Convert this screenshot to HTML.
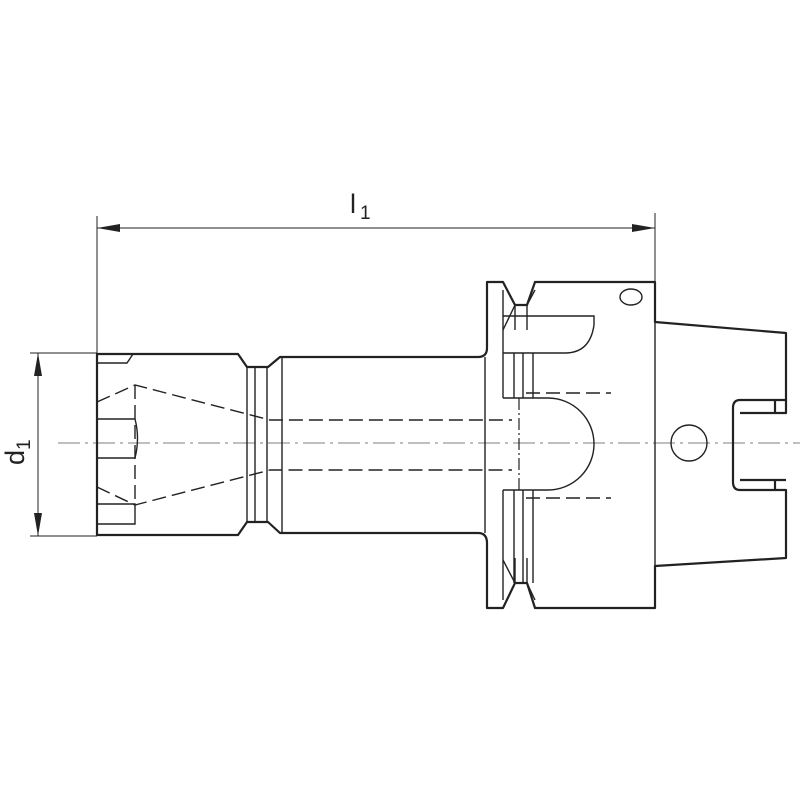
<!DOCTYPE html>
<html><head><style>body{margin:0;background:#fff}svg{display:block}</style></head>
<body>
<svg width="800" height="800" viewBox="0 0 800 800" xmlns="http://www.w3.org/2000/svg" font-family="Liberation Sans, sans-serif">
<rect width="800" height="800" fill="#fff"/>
<line x1="58" y1="443" x2="800" y2="443" stroke="#aaa" stroke-width="1.5" stroke-dasharray="22,5,3,5"/>
<g stroke="#222" stroke-width="1" fill="none">
<line x1="97" y1="216" x2="97" y2="354"/>
<line x1="655" y1="213" x2="655" y2="282"/>
<line x1="97" y1="228" x2="655" y2="228"/>
<line x1="30" y1="353" x2="97" y2="353"/>
<line x1="30" y1="536" x2="97" y2="536"/>
<line x1="38" y1="353" x2="38" y2="536"/>
</g>
<g fill="#222">
<polygon points="97,228 120,224 120,232"/>
<polygon points="655,228 632,224 632,232"/>
<polygon points="38,353 34,376 42,376"/>
<polygon points="38,536 34,513 42,513"/>
</g>
<text x="350" y="213" font-size="27" fill="#222">l</text>
<text x="360" y="219" font-size="19" fill="#222">1</text>
<text transform="translate(24,465) rotate(-90)" font-size="27" fill="#222">d<tspan font-size="19" dy="6">1</tspan></text>
<g stroke="#222" stroke-width="2.2" fill="none" stroke-linejoin="round">
<path d="M97,354 L238,354 L247,367 L268,367 L280,357 L478,357 Q487,357 487,348 L487,282 L503,282 L515,305 L527,305 L535,282 L655,282 L655,322 L786,333 L786,400 L740,400 Q733,400 733,408 L733,482 Q733,490 740,490 L786,490 L786,558 L655,566 L655,608 L535,608 L527,583 L515,583 L503,608 L487,608 L487,543 Q487,533 478,533 L280,533 L268,522 L247,522 L238,535 L97,535 Z"/>
<path d="M775,400 L775,413 M740,413 L786,413 L786,400"/>
<path d="M775,490 L775,480 M740,480 L786,480"/>
</g>
<g stroke="#222" stroke-width="1.4" fill="none">
<line x1="655" y1="282" x2="655" y2="608"/>
<line x1="485" y1="357" x2="485" y2="533"/>
<line x1="247" y1="367" x2="247" y2="522"/><line x1="255" y1="367" x2="255" y2="522"/><line x1="267" y1="367" x2="267" y2="522"/><line x1="282" y1="357" x2="282" y2="533"/>
<path d="M97,363 L127,363 L133,354"/>
<path d="M97,419 L135,419 Q140,438 135,458 L97,458"/>
<path d="M97,504 L135,504 L135,524 L97,524"/>
<line x1="503" y1="290" x2="503" y2="398"/><line x1="503" y1="490" x2="503" y2="600"/>
<line x1="515" y1="305" x2="503" y2="330"/><line x1="527" y1="305" x2="535" y2="290"/>
<line x1="515" y1="583" x2="503" y2="560"/><line x1="527" y1="583" x2="535" y2="600"/>
<line x1="515" y1="305" x2="515" y2="330"/><line x1="527" y1="305" x2="527" y2="330"/>
<line x1="515" y1="558" x2="515" y2="583"/><line x1="527" y1="558" x2="527" y2="583"/>
<path d="M503,316 L594,316 L594,325 Q590,353 565,353 L503,353"/>
<line x1="514" y1="353" x2="514" y2="398"/><line x1="523" y1="353" x2="523" y2="398"/><line x1="533" y1="353" x2="533" y2="398"/>
<line x1="514" y1="490" x2="514" y2="583"/><line x1="523" y1="490" x2="523" y2="583"/><line x1="533" y1="490" x2="533" y2="583"/>
<path d="M503,398 L548,398 A46,46 0 0 1 548,490 L503,490"/>
<ellipse cx="631" cy="297" rx="11" ry="8"/>
<circle cx="689" cy="443" r="18"/>
</g>
<g stroke="#222" stroke-width="1.4" fill="none" stroke-dasharray="14,6">
<path d="M97,402 L135,385 L270,420 L512,420"/>
<path d="M97,487 L135,505 L270,470 L512,470"/>
<line x1="135" y1="385" x2="135" y2="505"/>
<line x1="526" y1="393" x2="611" y2="393"/>
<line x1="526" y1="498" x2="611" y2="498"/>
</g>
<line x1="519" y1="398" x2="519" y2="490" stroke="#222" stroke-width="1.2" stroke-dasharray="12,3,2,3"/>
</svg>
</body></html>
